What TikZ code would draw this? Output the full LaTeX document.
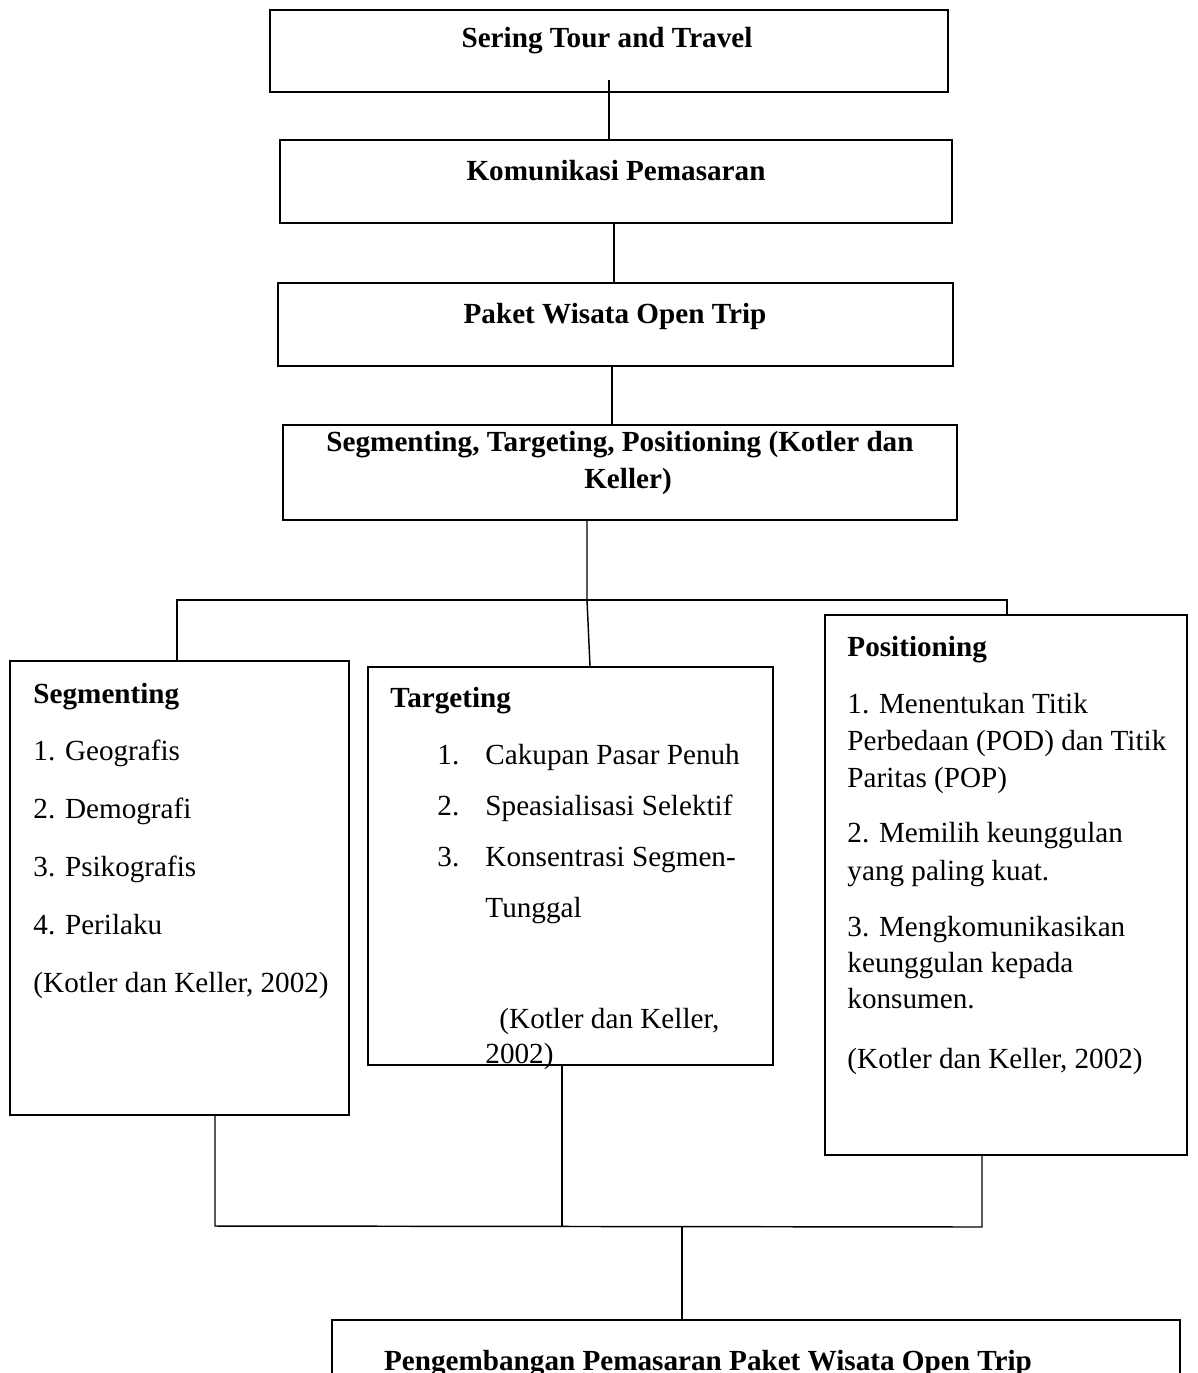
\documentclass[tikz,border=0pt]{standalone}
\usepackage{fontspec}
\setmainfont{Liberation Serif}
\usetikzlibrary{fit}
\begin{document}
\begin{tikzpicture}[x=0.4115pt,y=-0.4115pt,
  box/.style={draw, line width=0.8pt, inner sep=0pt},
  conn/.style={line width=0.6pt},
  t/.style={anchor=base west, inner sep=0pt, font=\fontsize{12}{14}\selectfont},
  tb/.style={anchor=base west, inner sep=0pt, font=\fontsize{12}{14}\selectfont\bfseries},
  title/.style={anchor=base, inner sep=0pt, font=\fontsize{12}{14}\selectfont\bfseries}]
\useasboundingbox (0,0) rectangle (1198,1373);
% boxes
\node[box, fit={(270,10) (948,92)}] (b1) {};
\node[box, fit={(280,140) (952,223)}] (b2) {};
\node[box, fit={(278,283) (953,366)}] (b3) {};
\node[box, fit={(283,425) (957,520)}] (b4) {};
\node[box, fit={(10,661) (349,1115)}] (seg) {};
\node[box, fit={(368,667) (773,1065)}] (tar) {};
\node[box, fit={(825,615) (1187,1155)}] (pos) {};
\node[box, fit={(332,1320) (1180,1420)}] (bot) {};
% titles
\node[title] (t1) at (607,47) {Sering Tour and Travel};
\node[title] (t2) at (616,180) {Komunikasi Pemasaran};
\node[title] (t3) at (615,323) {Paket Wisata Open Trip};
\node[title] (t4a) at (620,451) {Segmenting, Targeting, Positioning (Kotler dan};
\node[title] (t4b) at (628,488) {Keller)};
\node[title] (t5) at (708,1370) {Pengembangan Pemasaran Paket Wisata Open Trip};
% segmenting
\node[tb] (s0) at (33,703) {Segmenting};
\node[t] (s1) at (33,760) {1. Geografis};
\node[t] (s2) at (33,818) {2. Demografi};
\node[t] (s3) at (33,876) {3. Psikografis};
\node[t] (s4) at (33,934) {4. Perilaku};
\node[t] (s5) at (33,992) {(Kotler dan Keller, 2002)};
% targeting
\node[tb] (g0) at (390,707) {Targeting};
\node[t] (g1n) at (437,764) {1.};
\node[t] (g1) at (485,764) {Cakupan Pasar Penuh};
\node[t] (g2n) at (437,815) {2.};
\node[t] (g2) at (485,815) {Speasialisasi Selektif};
\node[t] (g3n) at (437,866) {3.};
\node[t] (g3) at (485,866) {Konsentrasi Segmen-};
\node[t] (g3b) at (485,917) {Tunggal};
\node[t] (g4) at (499,1028) {(Kotler dan Keller,};
\node[t] (g4b) at (485,1063) {2002)};
% positioning
\node[tb] (p0) at (847,656) {Positioning};
\node[t] (p1) at (847,713) {1. Menentukan Titik};
\node[t] (p1b) at (847,750) {Perbedaan (POD) dan Titik};
\node[t] (p1c) at (847,787) {Paritas (POP)};
\node[t] (p2) at (847,842) {2. Memilih keunggulan};
\node[t] (p2b) at (847,880) {yang paling kuat.};
\node[t] (p3) at (847,936) {3. Mengkomunikasikan};
\node[t] (p3b) at (847,972) {keunggulan kepada};
\node[t] (p3c) at (847,1008) {konsumen.};
\node[t] (p4) at (847,1068) {(Kotler dan Keller, 2002)};
% connectors
\coordinate (a1) at (609,80);
\coordinate (a2) at (614,0);
\coordinate (a3) at (612,0);
\coordinate (jL) at (177,600);
\coordinate (jT) at (587,600);
\coordinate (jR) at (1007,600);
\coordinate (tT) at (590,0);
\coordinate (kL) at (215,1226);
\coordinate (kT) at (562,1226);
\coordinate (kR) at (982,1227);
\coordinate (kM) at (682,1226);
\draw[conn] (a1) -- (b2.north -| a1);
\draw[conn] (b2.south -| a2) -- (b3.north -| a2);
\draw[conn] (b3.south -| a3) -- (b4.north -| a3);
\draw[conn] (b4.south -| jT) -- (jT) -- (tar.north -| tT);
\draw[conn] (seg.north -| jL) -- (jL) -- (jR) -- (pos.north -| jR);
\draw[conn] (seg.south -| kL) -- (kL) -- (kR) -- (pos.south -| kR);
\draw[conn] (tar.south -| kT) -- (kT);
\draw[conn] (kM) -- (bot.north -| kM);
\end{tikzpicture}
\end{document}
